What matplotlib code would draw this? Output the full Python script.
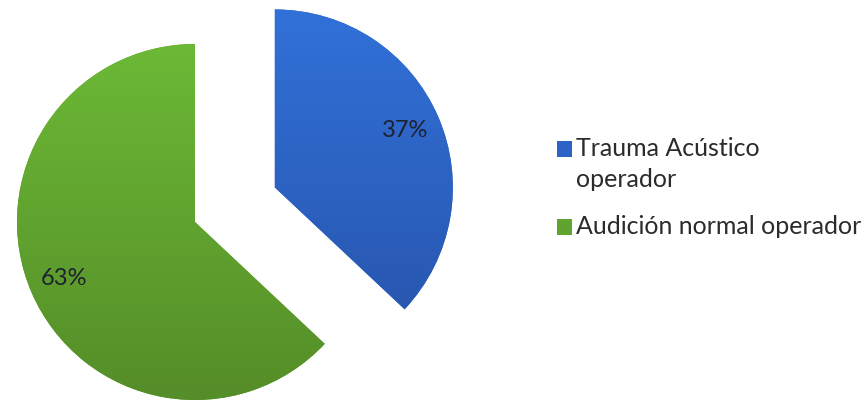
import numpy as np
import matplotlib.pyplot as plt
from matplotlib.colors import LinearSegmentedColormap
from matplotlib.patches import Rectangle

plt.rcParams['font.family'] = ['Lato', 'DejaVu Sans']

# data
labels = ['Trauma Acústico\noperador', 'Audición normal operador']
values = [37, 63]
base_colors = ['#2D63C6', '#60A32F']
top_colors = ['#3171D8', '#6CB936']
bottom_colors = ['#2753AA', '#558D28']

W, H = 867, 403
R = 178

fig = plt.figure(figsize=(W / 100, H / 100), dpi=100)
ax = fig.add_axes([0, 0, 1, 1])

wedges, texts, autotexts = ax.pie(
    values, radius=R, center=(195, 181), startangle=90, counterclock=False,
    explode=[87, 0], colors=base_colors, autopct='%d%%', pctdistance=0.8,
    wedgeprops=dict(linewidth=0),
    textprops=dict(fontsize=17, color='#1e2230'))

# vertical gradient on each slice
grad = np.linspace(0, 1, 256).reshape(-1, 1)
for w, c0, c1 in zip(wedges, top_colors, bottom_colors):
    cx, cy = w.center
    cmap = LinearSegmentedColormap.from_list('g', [c1, c0])
    im = ax.imshow(grad, cmap=cmap, origin='lower', aspect='auto',
                   extent=[cx - R, cx + R, cy - R, cy + R], zorder=1.5)
    im.set_clip_path(w)

for t in autotexts:
    t.set_zorder(5)

ax.set_xlim(0, W)
ax.set_ylim(0, H)
ax.set_aspect('equal')
ax.axis('off')

# legend: square marker next to the first line of each label
legend_y = [H - 157, H - 235]
for lab, col, y in zip(labels, base_colors, legend_y):
    ax.add_patch(Rectangle((557, y), 15, 16, facecolor=col, edgecolor='none'))
    ax.text(576, y + 20, lab, fontsize=18, color='#2b2b2b', va='top',
            ha='left', linespacing=1.4)

fig.savefig('out.png', dpi=100, facecolor='white')
